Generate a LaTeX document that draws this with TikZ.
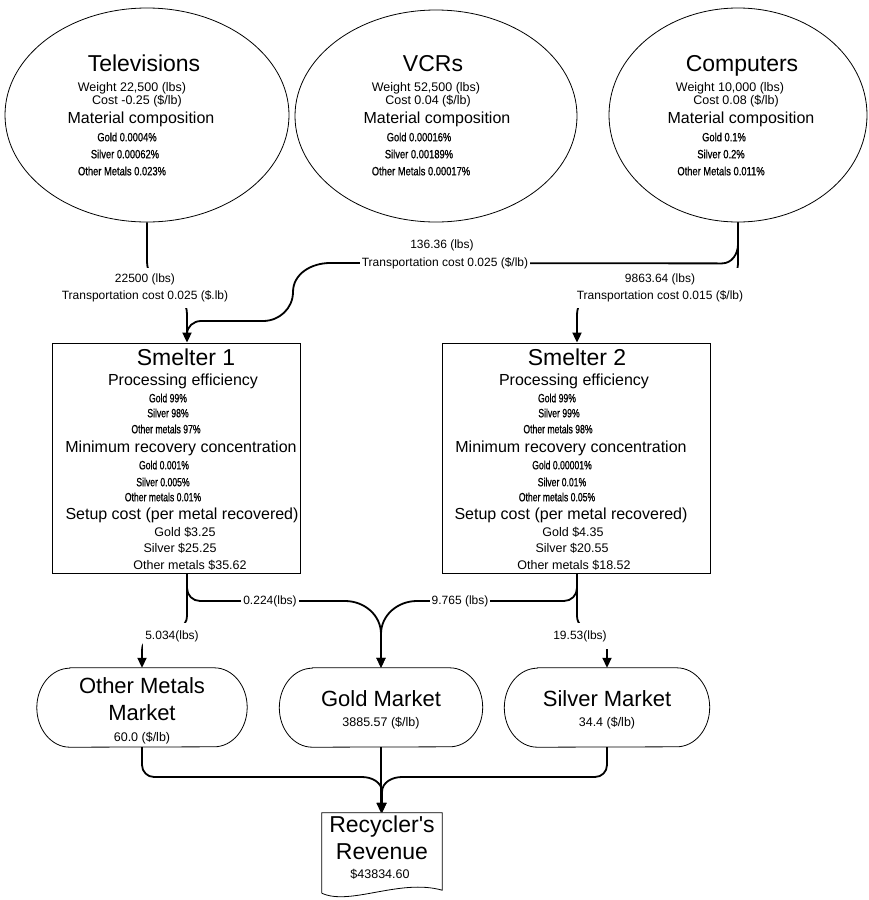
\documentclass[tikz,border=0pt]{standalone}
\usepackage{fontspec}
\setmainfont{Liberation Sans}
\newfontfamily\condf[FakeStretch=0.78,FakeBold=0.8]{Liberation Sans}
\newfontfamily\condg[FakeStretch=0.72,FakeBold=0.8]{Liberation Sans}
\usetikzlibrary{arrows.meta,shapes.geometric}
\newcommand\ftitle{\fontsize{23}{26}\selectfont}
\newcommand\fmkt{\fontsize{22}{25}\selectfont}
\newcommand\fmid{\fontsize{16}{18}\selectfont}
\newcommand\fnorm{\fontsize{12.5}{14}\selectfont}
\newcommand\fsmall{\condf\fontsize{12}{14}\selectfont}
\newcommand\fsmallb{\condg\fontsize{12}{14}\selectfont}
\begin{document}
\begin{tikzpicture}[x=1pt,y=1pt,
  conn/.style={line width=1.8pt},
  arr/.style={-{Triangle[width=9pt,length=10pt]}},
  shapeline/.style={draw, line width=0.8pt},
  lbl/.style={fill=white, inner xsep=2pt, inner ysep=2pt, align=center, font=\fontsize{12}{17}\selectfont},
  t/.style={anchor=base, inner sep=0}
]
\useasboundingbox (0,0) rectangle (868,-900);

% ---- sources
\node[ellipse, shapeline, minimum width=284pt, minimum height=214pt, inner sep=0] (tv) at (147,-115) {};
\node[ellipse, shapeline, minimum width=282pt, minimum height=212pt, inner sep=0] (vcr) at (436,-116) {};
\node[ellipse, shapeline, minimum width=258pt, minimum height=214pt, inner sep=0] (comp) at (738,-115) {};

% ---- smelters
\node[rectangle, shapeline, minimum width=248pt, minimum height=230pt, inner sep=0] (s1) at (176,-458) {};
\node[rectangle, shapeline, minimum width=268pt, minimum height=230pt, inner sep=0] (s2) at (576,-458) {};

% ---- markets
\node[minimum width=210pt, minimum height=79pt, inner sep=0] (om) at (142,-707.5) {};
\node[minimum width=203pt, minimum height=79pt, inner sep=0] (gm) at (381,-707.5) {};
\node[minimum width=205pt, minimum height=79pt, inner sep=0] (sm) at (607,-707.5) {};
\foreach \m in {om,gm,sm}{
  \draw[shapeline] ([xshift=33pt]\m.north west) -- ([xshift=-33pt]\m.north east)
    arc[start angle=90,end angle=-90,x radius=33pt,y radius=39.5pt]
    -- ([xshift=33pt]\m.south west)
    arc[start angle=270,end angle=90,x radius=33pt,y radius=39.5pt] -- cycle;
}

% ---- revenue
\node[minimum width=120pt, minimum height=80pt, inner sep=0] (rev) at (382,-853) {};
\draw[shapeline] (rev.south west) -- (rev.north west) -- (rev.north east) -- ([yshift=3pt]rev.south east)
  .. controls ([xshift=18pt,yshift=15pt]rev.south) and ([xshift=-32pt,yshift=-13pt]rev.south) .. (rev.south west);

% ---- connectors
\draw[conn] (comp.south) -- ++(0,-22) to[out=-90,in=0] ++(-16,-19) -- (330,-263)
  to[out=180,in=90] (293,-292) to[out=-90,in=0] (263,-321) -- (201,-321) to[out=180,in=90] (187,-334);
\draw[conn,arr] (tv.south) -- (147,-262) to[out=-90,in=90] (187,-314) -- ([xshift=11pt]s1.north);
\draw[conn,arr] (comp.south) -- (738,-262) to[out=-90,in=90] (577,-316) -- ([xshift=1pt]s2.north);

\draw[conn,arr] ([xshift=11pt]s1.south) -- (187,-616) to[out=-90,in=90] (142,-650) -- (om.north);
\draw[conn,arr] ([xshift=11pt]s1.south) -- (187,-588) to[out=-90,in=180] (200,-601) -- (345,-601)
  to[out=0,in=90] (381,-634) -- (gm.north);
\draw[conn,arr] ([xshift=1pt]s2.south) -- (577,-616) to[out=-90,in=90] (607,-650) -- (sm.north);
\draw[conn,arr] ([xshift=1pt]s2.south) -- (577,-588) to[out=-90,in=0] (564,-601) -- (417,-601)
  to[out=180,in=90] (381,-634) -- (gm.north);

\draw[conn,arr] (om.south) -- (142,-765) to[out=-90,in=180] (154,-777) -- (362,-777)
  to[out=0,in=90] (382,-792) -- (rev.north);
\draw[conn,arr] (sm.south) -- (607,-765) to[out=-90,in=0] (595,-777) -- (402,-777)
  to[out=180,in=90] (382,-792) -- (rev.north);
\draw[conn,arr] (gm.south) -- (gm.south |- rev.north);

% ---- connector labels
\node[lbl, inner ysep=6pt] at (145,-288) {22500 (lbs)\\Transportation cost 0.025 (\$.lb)};
\node[lbl, inner ysep=6pt] at (660,-288) {9863.64 (lbs)\\Transportation cost 0.015 (\$/lb)};
\node[font=\fontsize{12}{14}\selectfont, inner sep=0] at (442,-245) {136.36 (lbs)};
\node[lbl] at (445,-263) {Transportation cost 0.025 (\$/lb)};
\node[lbl] at (270,-601) {0.224(lbs)};
\node[lbl] at (460,-601) {9.765 (lbs)};
\node[lbl, inner ysep=7pt] at (172,-636) {5.034(lbs)};
\node[lbl, inner ysep=7pt] at (580,-636) {19.53(lbs)};

% ---- Televisions text
\node[t,font=\ftitle] at (144,-71) {Televisions};
\node[t,font=\fnorm] at (132,-91.5) {Weight 22,500 (lbs)};
\node[t,font=\fnorm] at (137,-104.5) {Cost -0.25 (\$/lb)};
\node[t,font=\fmid] at (141,-123.7) {Material composition};
\node[t,font=\fsmall] at (127,-141.3) {Gold 0.0004\%};
\node[t,font=\fsmall] at (125,-158.3) {Silver 0.00062\%};
\node[t,font=\fsmall] at (122,-175.3) {Other Metals 0.023\%};

% ---- VCRs text
\node[t,font=\ftitle] at (433,-71) {VCRs};
\node[t,font=\fnorm] at (426,-91.5) {Weight 52,500 (lbs)};
\node[t,font=\fnorm] at (428,-104.5) {Cost 0.04 (\$/lb)};
\node[t,font=\fmid] at (437,-123.7) {Material composition};
\node[t,font=\fsmall] at (419,-141.3) {Gold 0.00016\%};
\node[t,font=\fsmall] at (419,-158.3) {Silver 0.00189\%};
\node[t,font=\fsmall] at (421,-175.3) {Other Metals 0.00017\%};

% ---- Computers text
\node[t,font=\ftitle] at (742,-71) {Computers};
\node[t,font=\fnorm] at (730,-91.5) {Weight 10,000 (lbs)};
\node[t,font=\fnorm] at (736,-104.5) {Cost 0.08 (\$/lb)};
\node[t,font=\fmid] at (741,-123.7) {Material composition};
\node[t,font=\fsmall] at (724,-141.3) {Gold 0.1\%};
\node[t,font=\fsmall] at (721,-158.3) {Silver 0.2\%};
\node[t,font=\fsmall] at (721,-175.3) {Other Metals 0.011\%};

% ---- Smelter 1 text
\node[t,font=\ftitle] at (186,-365) {Smelter 1};
\node[t,font=\fmid] at (183,-385.7) {Processing efficiency};
\node[t,font=\fsmallb] at (168,-402.3) {Gold 99\%};
\node[t,font=\fsmallb] at (168,-417.3) {Silver 98\%};
\node[t,font=\fsmallb] at (166,-433.3) {Other metals 97\%};
\node[t,font=\fmid] at (181,-452.7) {Minimum recovery concentration};
\node[t,font=\fsmallb] at (164,-469.3) {Gold 0.001\%};
\node[t,font=\fsmallb] at (163,-486.3) {Silver 0.005\%};
\node[t,font=\fsmallb] at (163,-501.3) {Other metals 0.01\%};
\node[t,font=\fmid] at (182,-519.7) {Setup cost (per metal recovered)};
\node[t,font=\fnorm] at (185,-536.5) {Gold \$3.25};
\node[t,font=\fnorm] at (180,-552.5) {Silver \$25.25};
\node[t,font=\fnorm] at (190,-569.5) {Other metals \$35.62};

% ---- Smelter 2 text
\node[t,font=\ftitle] at (577,-365) {Smelter 2};
\node[t,font=\fmid] at (574,-385.7) {Processing efficiency};
\node[t,font=\fsmallb] at (557,-402.3) {Gold 99\%};
\node[t,font=\fsmallb] at (559,-417.3) {Silver 99\%};
\node[t,font=\fsmallb] at (558,-433.3) {Other metals 98\%};
\node[t,font=\fmid] at (571,-452.7) {Minimum recovery concentration};
\node[t,font=\fsmallb] at (562,-469.3) {Gold 0.00001\%};
\node[t,font=\fsmallb] at (562,-486.3) {Silver 0.01\%};
\node[t,font=\fsmallb] at (557,-501.3) {Other metals 0.05\%};
\node[t,font=\fmid] at (571,-519.7) {Setup cost (per metal recovered)};
\node[t,font=\fnorm] at (573,-536.5) {Gold \$4.35};
\node[t,font=\fnorm] at (572,-552.5) {Silver \$20.55};
\node[t,font=\fnorm] at (574,-569.5) {Other metals \$18.52};

% ---- markets text
\node[t,font=\fmkt] at (142,-693) {Other Metals};
\node[t,font=\fmkt] at (142,-720) {Market};
\node[t,font=\fnorm] at (142,-741) {60.0 (\$/lb)};
\node[t,font=\fmkt] at (381,-706) {Gold Market};
\node[t,font=\fnorm] at (381,-726.3) {3885.57 (\$/lb)};
\node[t,font=\fmkt] at (607,-706) {Silver Market};
\node[t,font=\fnorm] at (607,-726.3) {34.4 (\$/lb)};

% ---- revenue text
\node[t,font=\ftitle] at (382,-832) {Recycler\textquotesingle s};
\node[t,font=\ftitle] at (382,-859) {Revenue};
\node[t,font=\fnorm] at (380,-878) {\$43834.60};
\end{tikzpicture}
\end{document}
